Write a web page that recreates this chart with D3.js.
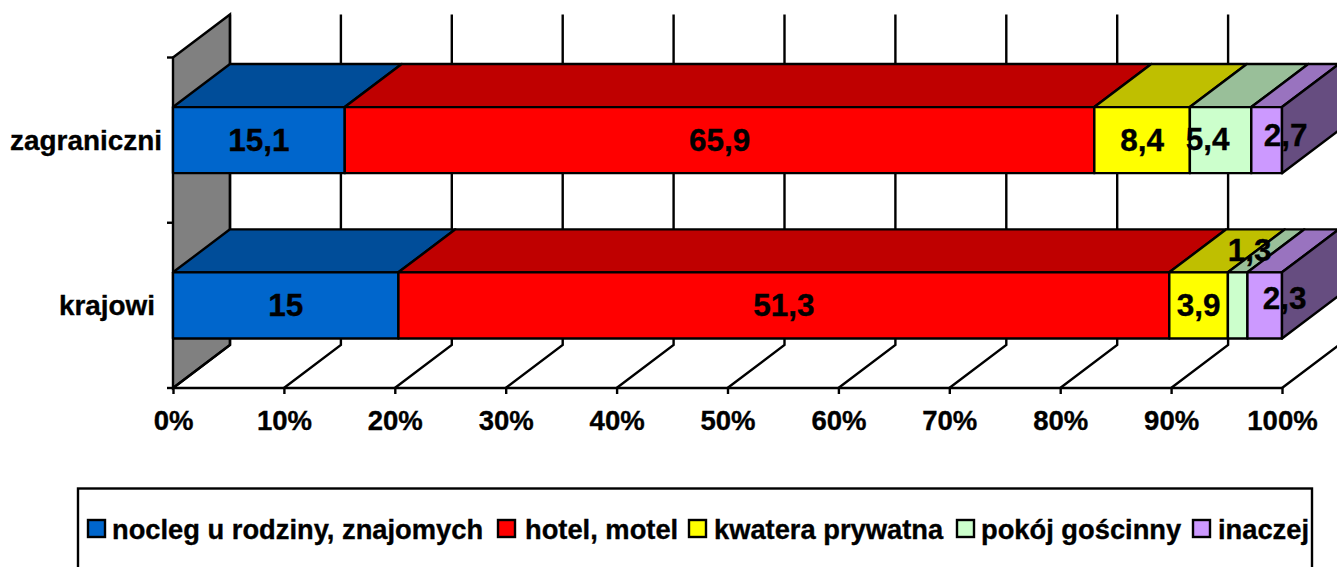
<!DOCTYPE html>
<html><head><meta charset="utf-8">
<script src="https://cdn.jsdelivr.net/npm/d3@7/dist/d3.min.js"></script>
<style>html,body{margin:0;padding:0;background:#fff;overflow:hidden}svg{display:block}text{font-family:"Liberation Sans",Arial,sans-serif;font-weight:bold;fill:#000;stroke:#000;stroke-width:.35px}</style>
</head><body><svg id="c" width="1337" height="567"></svg>
<script>
const categories = ["zagraniczni", "krajowi"];
const seriesNames = ["nocleg u rodziny, znajomych", "hotel, motel", "kwatera prywatna", "pokój gościnny", "inaczej"];
const seriesColors = ["#0066CC", "#FF0000", "#FFFF00", "#CCFFCC", "#CC99FF"];
const zagraniczni = [15.1, 65.9, 8.4, 5.4, 2.7];
const krajowi = [15, 51.3, 3.9, 1.3, 2.3];
const valueTicks = [0, .1, .2, .3, .4, .5, .6, .7, .8, .9, 1];

// Layout
const X0 = 173, X1 = 1282, Y0 = 57.5, Y1 = 388, DX = 57, DY = 43;
const SW = 2.4;
// hand-placed label offsets (series index -> [dx, dy]) per category
const labelNudge = {
  zagraniczni: {3: [-13, -1.5], 4: [19, -5]},
  krajowi: {3: [12, -55], 4: [20, -7.5]}
};
const catLabelRight = {zagraniczni: 162, krajowi: 155};
const legendPos = [
  {sw: 88, tx: 112}, {sw: 498, tx: 525}, {sw: 689, tx: 714}, {sw: 957, tx: 981}, {sw: 1193, tx: 1218}
];

const svg = d3.select("#c");
const x = d3.scaleLinear().domain([0, 1]).range([X0, X1]);
const y = d3.scaleBand().domain(categories).range([Y0, Y1]).paddingInner(0).paddingOuter(0);
const barH = y.bandwidth() / 2.5;
const barTop = c => y(c) + (y.bandwidth() - barH) / 2;
const rows = categories.map((c, i) => {
  const r = {cat: c};
  const vals = i === 0 ? zagraniczni : krajowi;
  seriesNames.forEach((s, k) => r[s] = vals[k]);
  return r;
});
const stacked = d3.stack().keys(seriesNames).offset(d3.stackOffsetExpand)(rows);
const pts = a => a.map(p => p.join(",")).join(" ");
const shade = (col, f) => { const c = d3.rgb(col); return d3.rgb(c.r * f, c.g * f, c.b * f).formatHex(); };

// back wall on the left
svg.append("polygon").attr("points", pts([[X0, Y0], [X0 + DX, Y0 - DY], [X0 + DX, Y1 - DY], [X0, Y1]]))
  .attr("fill", "#808080").attr("stroke", "#000").attr("stroke-width", SW);

// grid: floor diagonals + back verticals
const g = svg.append("g").attr("fill", "none").attr("stroke", "#000").attr("stroke-width", SW);
g.selectAll("path.grid").data(valueTicks).join("path").attr("class", "grid")
  .attr("d", d => `M${x(d)},${Y1}L${x(d) + DX},${Y1 - DY}V${Y0 - DY}`);

// left ticks at band edges
const edges = [Y0, ...categories.map(c => y(c) + y.bandwidth())];
g.selectAll("line.cat").data(edges).join("line").attr("class", "cat")
  .attr("x1", X0 - 6).attr("x2", X0).attr("y1", d => d).attr("y2", d => d);

// x axis
const ax = svg.append("g").attr("transform", `translate(0,${Y1})`)
  .call(d3.axisBottom(x).tickValues(valueTicks).tickFormat(d3.format(".0%")).tickSize(6).tickPadding(10));
ax.selectAll("path,line").attr("stroke", "#000").attr("stroke-width", SW);
ax.select("path").attr("d", `M${X0},0H${X1}`);
ax.selectAll("text").style("font-size", "27.5px").attr("dy", null).attr("y", 42);
ax.attr("font-family", null).attr("font-size", null);

// bars
const bars = svg.append("g").attr("stroke", "#000").attr("stroke-width", SW).attr("stroke-linejoin", "round");
categories.forEach((c, ci) => {
  const t = barTop(c), b = t + barH;
  stacked.forEach((s, k) => {
    const d = s[ci], a = x(d[0]), e = x(d[1]);
    bars.append("polygon").attr("points", pts([[a, t], [a + DX, t - DY], [e + DX, t - DY], [e, t]]))
      .attr("fill", shade(seriesColors[k], .75));
    bars.append("rect").attr("x", a).attr("y", t).attr("width", e - a).attr("height", barH)
      .attr("fill", seriesColors[k]);
    if (k === stacked.length - 1)
      bars.append("polygon").attr("points", pts([[e, t], [e + DX, t - DY], [e + DX, b - DY], [e, b]]))
        .attr("fill", shade(seriesColors[k], .5));
  });
});

// value labels
const fmt = v => String(v).replace(".", ",");
categories.forEach((c, ci) => {
  const vals = ci === 0 ? zagraniczni : krajowi;
  stacked.forEach((s, k) => {
    const d = s[ci], n = (labelNudge[c] || {})[k] || [0, 0];
    svg.append("text").attr("text-anchor", "middle").style("font-size", "31.5px")
      .attr("x", (x(d[0]) + x(d[1])) / 2 + n[0])
      .attr("y", barTop(c) + barH / 2 + 11 + n[1])
      .text(fmt(vals[k]));
  });
  svg.append("text").attr("text-anchor", "end").style("font-size", "27.9px")
    .attr("x", catLabelRight[c]).attr("y", barTop(c) + barH / 2 + 10).text(c);
});

// legend
svg.append("rect").attr("x", 78).attr("y", 488.5).attr("width", 1234).attr("height", 120)
  .attr("fill", "#fff").attr("stroke", "#000").attr("stroke-width", SW);
seriesNames.forEach((s, k) => {
  const p = legendPos[k];
  svg.append("rect").attr("x", p.sw).attr("y", 520).attr("width", 17).attr("height", 17)
    .attr("fill", seriesColors[k]).attr("stroke", "#000").attr("stroke-width", SW);
  svg.append("text").attr("x", p.tx).attr("y", 538.5).style("font-size", "27.3px").text(s);
});
</script></body></html>
